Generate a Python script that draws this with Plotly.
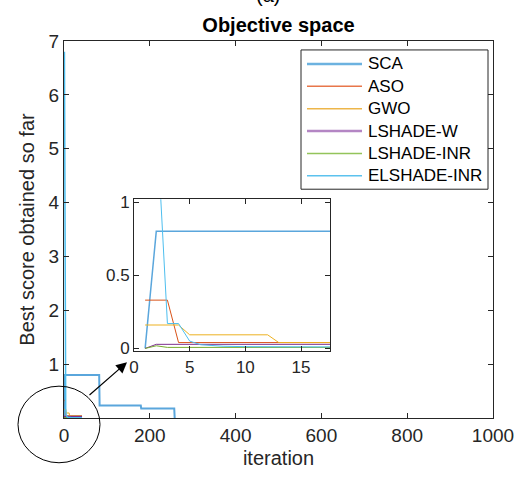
import plotly.graph_objects as go

# ---------------- data (iteration breakpoints and best score values) ----------------
names = ["SCA", "ASO", "GWO", "LSHADE-W", "LSHADE-INR", "ELSHADE-INR"]

sca_iter = [1, 2, 82, 83, 179, 180, 257, 258]
sca_score = [0, 0.8, 0.8, 0.23, 0.23, 0.175, 0.175, 0]

aso_iter = [1, 3, 4, 42]
aso_score = [0.33, 0.33, 0.04, 0.04]

gwo_iter = [1, 4, 5, 12, 13, 42]
gwo_score = [0.16, 0.16, 0.093, 0.093, 0.04, 0.04]

lshadew_iter = [1, 2, 42]
lshadew_score = [0, 0.028, 0.028]

lshadeinr_iter = [1, 2, 3, 42]
lshadeinr_score = [0, 0.018, 0.007, 0.007]

elshadeinr_iter = [1, 2, 3, 4, 5, 6, 7, 8, 10, 12, 17, 42]
elshadeinr_score = [6.8, 1.6, 0.17, 0.17, 0.05, 0.025, 0.02, 0.015, 0.012, 0.01, 0.005, 0.005]

main_xticks = [0, 200, 400, 600, 800, 1000]
main_yticks = [1, 2, 3, 4, 5, 6, 7]
inset_xticks = [0, 5, 10, 15]
inset_yticks = [0, 0.5, 1]

series = [
    (sca_iter, sca_score),
    (aso_iter, aso_score),
    (gwo_iter, gwo_score),
    (lshadew_iter, lshadew_score),
    (lshadeinr_iter, lshadeinr_score),
    (elshadeinr_iter, elshadeinr_score),
]
colors = ["#5AA6DC", "#D95319", "#EDB120", "#7E2F8E", "#77AC30", "#4DBEEE"]
legend_colors = ["#6CB2E0", "#E8764A", "#EDB64A", "#B486C4", "#93C45A", "#5CC2EE"]
widths = [2, 1, 1, 1.5, 1, 1.5]
legend_widths = [2.5, 1.5, 1.5, 2.5, 1.5, 1.5]

# ---------------- layout geometry (pixels) ----------------
W, H = 531, 478
L, R, T, B = 64, 493, 41, 420
pw, ph = R - L, B - T


def px(x):
    return (x - L) / pw


def py(y):
    return (B - y) / ph


FONT = "Liberation Sans, Arial, sans-serif"
TXT = "#262626"

fig = go.Figure()
for (xs, ys), n, c, w in zip(series, names, colors, widths):
    fig.add_trace(go.Scatter(x=xs, y=ys, mode="lines", name=n,
                             line=dict(color=c, width=w),
                             xaxis="x", yaxis="y", showlegend=False))
for (xs, ys), n, c, w in zip(series, names, colors, widths):
    fig.add_trace(go.Scatter(x=xs, y=ys, mode="lines", name=n,
                             line=dict(color=c, width=1 if w < 2 else 1.5),
                             xaxis="x2", yaxis="y2", showlegend=False))

axis_common = dict(showline=True, linecolor=TXT, linewidth=1, mirror="ticks",
                   ticks="inside", ticklen=5, tickcolor=TXT, showgrid=False,
                   zeroline=False, tickfont=dict(family=FONT, size=19, color=TXT))

fig.update_layout(
    width=W, height=H,
    margin=dict(l=L, r=W - R, t=T, b=H - B),
    paper_bgcolor="white", plot_bgcolor="white",
    font=dict(family=FONT, color=TXT),
    title=dict(text="<b>Objective space</b>", x=0.5, xref="paper",
               y=1 - 25 / H, yref="container", xanchor="center", yanchor="middle",
               font=dict(family=FONT, size=20, color="black")),
    xaxis=dict(range=[0, 1000], tickvals=main_xticks, domain=[0, 1],
               title=dict(text="iteration", font=dict(family=FONT, size=20, color=TXT),
                          standoff=6),
               **axis_common),
    yaxis=dict(range=[0, 7], tickvals=main_yticks, domain=[0, 1],
               title=dict(text="Best score obtained so far",
                          font=dict(family=FONT, size=20, color=TXT), standoff=8),
               **axis_common),
    xaxis2=dict(range=[0, 17.6], tickvals=inset_xticks, anchor="y2",
                domain=[px(134), px(330)],
                **{**axis_common, "tickfont": dict(family=FONT, size=17, color=TXT)}),
    yaxis2=dict(range=[-0.02, 1.02], tickvals=inset_yticks, anchor="x2",
                domain=[py(353), py(200)],
                **{**axis_common, "tickfont": dict(family=FONT, size=17, color=TXT)}),
    showlegend=False,
)

# inset background
fig.add_shape(type="rect", xref="paper", yref="paper",
              x0=px(134), x1=px(330), y0=py(353), y1=py(200),
              fillcolor="white", line=dict(width=0), layer="below")

# legend box (drawn by hand to match the reference row spacing and sample length)
fig.add_shape(type="rect", xref="paper", yref="paper",
              x0=px(301), x1=px(488), y0=py(190), y1=py(50),
              fillcolor="white", line=dict(color=TXT, width=1))
row0, row_gap = 64, 22.5
for i, (n, c, lw) in enumerate(zip(names, legend_colors, legend_widths)):
    yy = row0 + i * row_gap
    fig.add_shape(type="line", xref="paper", yref="paper",
                  x0=px(307), x1=px(362), y0=py(yy), y1=py(yy),
                  line=dict(color=c, width=lw))
    fig.add_annotation(xref="paper", yref="paper", x=px(366), y=py(yy),
                       text=n, showarrow=False, xanchor="left", yanchor="middle",
                       font=dict(family=FONT, size=17, color="black"))

# ellipse around origin
fig.add_shape(type="circle", xref="paper", yref="paper",
              x0=px(18), x1=px(100), y0=py(465), y1=py(388),
              line=dict(color="black", width=1))

# arrow pointing to the inset
fig.add_annotation(xref="paper", yref="paper", x=px(127), y=py(364),
                   ax=88 - 127, ay=398 - 364, axref="pixel", ayref="pixel",
                   text="", showarrow=True, arrowhead=2, arrowsize=1.8,
                   arrowwidth=1.2, arrowcolor="black")

# partially visible panel label
fig.add_annotation(xref="paper", yref="paper", x=px(268), y=py(-5),
                   text="(a)", showarrow=False, yanchor="middle",
                   font=dict(family=FONT, size=20, color="black"))

fig.write_html("out.html")
